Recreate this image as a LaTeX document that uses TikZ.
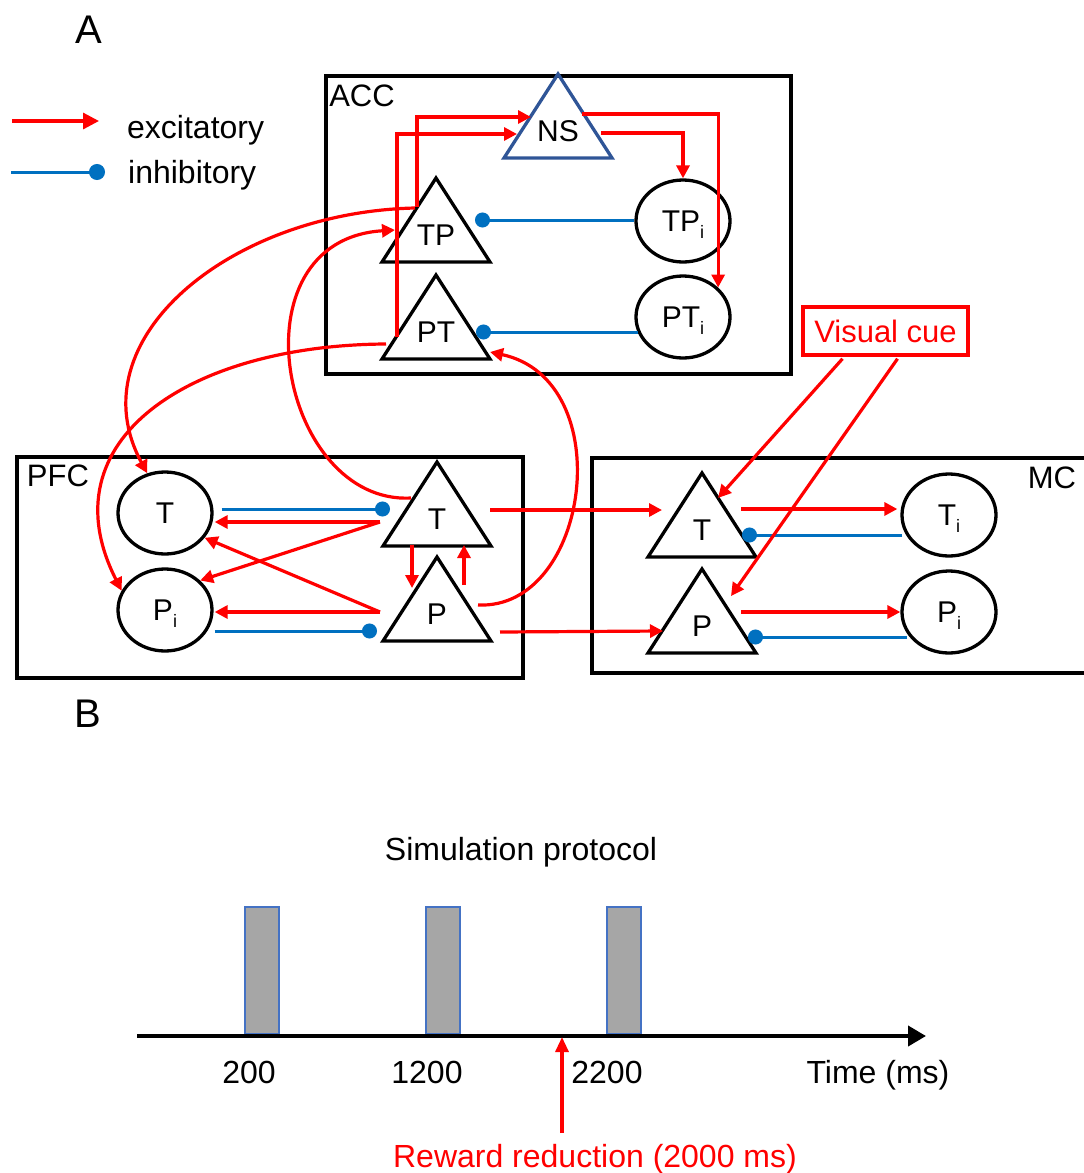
\documentclass[tikz,border=0pt]{standalone}
\usepackage{fontspec}
\setmainfont{Liberation Sans}
\usetikzlibrary{arrows.meta,shapes.geometric,calc}
\definecolor{ered}{RGB}{255,0,0}
\definecolor{iblue}{RGB}{0,112,192}
\definecolor{nsblue}{RGB}{47,85,151}
\definecolor{bargray}{RGB}{166,166,166}
\definecolor{barblue}{RGB}{68,114,196}
\newcommand\subi{\smash{\raisebox{-7pt}{\fontsize{18}{18}\selectfont i}}}
\tikzset{
  areabox/.style={draw=black, line width=3.6pt, inner sep=0pt},
  cell/.style={draw=black, line width=3.3pt, ellipse, minimum width=94pt, minimum height=82pt, inner sep=0pt, font=\fontsize{30}{36}\selectfont},
  tri/.style={line width=3.3pt, line join=miter},
  lbl/.style={font=\fontsize{30}{36}\selectfont, inner sep=0pt},
  arealbl/.style={font=\fontsize{31}{36}\selectfont, inner sep=0pt},
  bigtxt/.style={font=\fontsize{32}{38}\selectfont, inner sep=0pt},
  panel/.style={font=\fontsize{40}{48}\selectfont, inner sep=0pt},
  exc/.style={draw=ered, line width=3.2pt, -{Triangle[length=13pt,width=13pt]}},
  inh/.style={draw=iblue, line width=3pt, -{Circle[length=15pt]}},
  bar/.style={fill=bargray, draw=barblue, line width=1.4pt},
}
% #1 name, #2 apex x, #3 apex y, #4 label, #5 colour
\newcommand\neuron[5]{%
  \draw[tri,draw=#5] (#2,#3) -- ++(54,84) -- ++(-108,0) -- cycle;
  \node[lbl] (#1) at (#2,#3+57) {#4};}
\begin{document}
\begin{tikzpicture}[x=1pt,y=-1pt]
\useasboundingbox (0,0) rectangle (1084,1173);
\clip (0,0) rectangle (1084,1173);

% panel labels
\node[panel, anchor=base west] (pA) at (75,43) {A};
\node[panel, anchor=base west] (pB) at (74,727) {B};

% legend
\coordinate (exs) at (12,121);
\coordinate (exe) at (99,121);
\draw[exc, -{Triangle[length=16pt,width=16pt]}] (exs) -- (exe);
\node[bigtxt, anchor=base west] (lexc) at (127,138) {excitatory};
\coordinate (ins) at (11,172);
\coordinate (ine) at (105,172);
\draw[inh, -{Circle[length=16pt]}] (ins) -- (ine);
\node[bigtxt, anchor=base west] (linh) at (128,183) {inhibitory};

% area boxes
\node[areabox, anchor=north west, minimum width=465pt, minimum height=298pt] (acc) at (324,74) {};
\node[arealbl] (acclbl) at (362,96) {ACC};
\node[areabox, anchor=north west, minimum width=506pt, minimum height=221pt] (pfc) at (15,455) {};
\node[arealbl] (pfclbl) at (58,476) {PFC};
\node[areabox, anchor=north west, minimum width=505pt, minimum height=215pt] (mc) at (590,456) {};
\node[arealbl] (mclbl) at (1052,478) {MC};

% ACC neurons
\neuron{NS}{558}{74}{NS}{nsblue}
\neuron{TP}{436}{178}{TP}{black}
\neuron{PT}{436}{275}{PT}{black}
\node[cell] (TPi) at (683,221) {TP\subi};
\node[cell] (PTi) at (683,317) {PT\subi};

% PFC neurons
\neuron{pT}{437}{462}{T}{black}
\neuron{pP}{437}{557}{P}{black}
\node[cell] (pTe) at (165,513) {T};
\node[cell] (pPe) at (165,610) {P\subi};

% MC neurons
\neuron{mT}{702}{473}{T}{black}
\neuron{mP}{702}{569}{P}{black}
\node[cell] (mTe) at (949,515) {T\subi};
\node[cell] (mPe) at (949,612) {P\subi};

% visual cue
\node[draw=ered, line width=3.5pt, text=ered, font=\fontsize{31}{36}\selectfont, minimum width=165pt, minimum height=48pt, inner sep=0pt] (vc) at (885.5,331) {Visual cue};

% ACC connections
\draw[exc] ($(TP)+(-19,-28)$) |- ($(NS)+(-27,-14)$);
\draw[exc] ($(PT)+(-39,5)$) |- ($(NS)+(-41,3)$);
\draw[exc] ($(NS)+(43,2)$) -| (TPi.north);
\draw[exc] ($(NS)+(24,-17)$) -| (PTi.40);
\draw[inh] ($(TPi.west)+(0,-1)$) -- ($(TP)+(39,-15)$);
\draw[inh] ($(PTi.west)+(4,15)$) -- ($(PT)+(40,0)$);

% ACC <-> PFC curves
\draw[exc] ($(TP)+(-21,-27)$) .. controls (230,212) and (75,340) .. (pTe.114);
\draw[exc] ($(PT)+(-50,12)$) .. controls (190,345) and (45,440) .. (pPe.156);
\draw[exc] ($(pT)+(-26,-21)$) .. controls (280,505) and (230,240) .. ($(TP)+(-41,-5)$);
\draw[exc] ($(pP)+(41,-9)$) .. controls (590,610) and (620,380) .. ($(PT)+(54,20)$);

% PFC connections
\draw[inh] ($(pTe.east)+(8,-4)$) -- ($(pT)+(-47,-10)$);
\draw[exc] ($(pT)+(-57,3)$) -- ($(pTe.east)+(1,9)$);
\draw[exc] ($(pT)+(-57,3)$) -- (pPe.40);
\draw[exc] ($(pP)+(-57,-2)$) -- (pTe.-32);
\draw[exc] ($(pP)+(-57,-2)$) -- ($(pPe.east)+(1,2)$);
\draw[inh] ($(pPe.east)+(1,21)$) -- ($(pP)+(-60,17)$);
\draw[exc] ($(pT)+(-25,26)$) -- ($(pP)+(-25,-26)$);
\draw[exc] ($(pP)+(27,-29)$) -- ($(pT)+(27,26)$);

% PFC -> MC
\draw[exc] ($(pT)+(53,-9)$) -- ($(mT)+(-40,-20)$);
\draw[exc] ($(pP)+(63,18)$) -- ($(mP)+(-39,5)$);

% MC connections
\draw[exc] ($(mT)+(39,-21)$) -- ($(mTe.west)+(-3,-6)$);
\draw[inh] ($(mTe.west)+(2,20)$) -- ($(mT)+(40,5)$);
\draw[exc] ($(mP)+(39,-14)$) -- (mPe.west);
\draw[inh] ($(mPe.west)+(7,25)$) -- ($(mP)+(46,11)$);

% visual cue -> MC
\draw[exc] ($(vc.south)+(-43,2)$) -- ($(mT)+(16,-32)$);
\draw[exc] ($(vc.south)+(12,2)$) -- ($(mP)+(29,-30)$);

% Panel B
\node[bigtxt, anchor=base] (sim) at (521,860) {Simulation protocol};
\draw[bar] (245,907) rectangle (279,1034);
\draw[bar] (426,907) rectangle (460,1034);
\draw[bar] (607,907) rectangle (641,1034);
\coordinate (ax0) at (137,1036);
\coordinate (ax1) at (926,1036);
\draw[line width=4pt, -{Triangle[length=18pt,width=20pt]}] (ax0) -- (ax1);
\node[bigtxt, anchor=base] (t200) at (249,1083) {200};
\node[bigtxt, anchor=base] (t1200) at (427,1083) {1200};
\node[bigtxt, anchor=base] (t2200) at (607,1083) {2200};
\node[bigtxt, anchor=base] (tlab) at (878,1083) {Time (ms)};
\node[bigtxt, anchor=base, text=ered] (rr) at (595,1167) {Reward reduction (2000 ms)};
\coordinate (rrs) at (562,1133);
\coordinate (rre) at (562,1037);
\draw[exc, -{Triangle[length=15pt,width=13pt]}] (rrs) -- (rre);
\end{tikzpicture}
\end{document}
